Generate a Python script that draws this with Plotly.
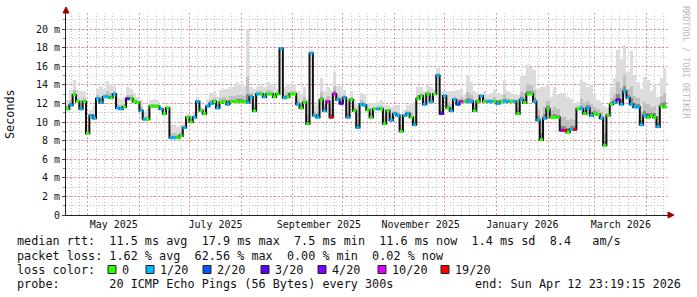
import plotly.graph_objects as go
import pandas as pd

# ---------------- data ----------------
end_time = "2026-04-12 23:19:15"
span_days = 360
step_days = 2

median_ms = [
    11.4, 11.8, 12.9, 12.2, 11.4, 12.2, 8.8, 10.7, 10.4, 12.5,
    12.1, 12.7, 12.7, 12.6, 13.0, 11.5, 11.4, 11.6, 12.5, 12.5,
    12.2, 12.1, 11.2, 10.3, 10.3, 11.7, 11.7, 11.7, 11.4, 10.9,
    11.5, 8.3, 8.3, 8.3, 8.5, 9.4, 10.5, 10.0, 10.5, 12.2,
    11.2, 10.9, 11.7, 12.0, 12.2, 11.5, 12.1, 12.2, 11.9, 12.2,
    12.2, 12.2, 12.2, 12.2, 12.1, 12.7, 11.2, 13.0, 13.0, 12.7,
    13.0, 13.0, 12.7, 13.0, 17.9, 12.6, 12.7, 13.0, 13.0, 11.9,
    11.5, 12.1, 9.8, 17.4, 10.7, 10.5, 12.4, 11.2, 12.2, 10.5,
    13.0, 12.4, 12.0, 12.6, 10.5, 12.4, 11.2, 9.4, 11.9, 11.8,
    11.3, 10.5, 11.4, 11.4, 11.4, 9.8, 11.2, 10.2, 10.9, 10.7,
    9.0, 10.7, 10.9, 10.5, 9.7, 12.5, 12.8, 11.9, 13.0, 12.2,
    13.0, 15.0, 10.9, 12.8, 11.5, 11.2, 12.4, 11.9, 12.2, 12.2,
    12.2, 12.2, 11.2, 12.2, 12.8, 12.2, 12.2, 12.2, 12.2, 12.0,
    12.2, 12.2, 12.2, 12.2, 12.2, 10.9, 12.4, 12.1, 13.0, 13.0,
    12.2, 10.2, 8.1, 10.4, 11.4, 10.5, 10.5, 10.5, 9.1, 9.1,
    8.9, 9.2, 9.2, 11.4, 11.4, 10.9, 11.5, 10.7, 10.9, 10.8,
    10.4, 7.5, 10.7, 11.9, 12.1, 12.4, 11.9, 13.3, 12.6, 11.9,
    11.6, 11.6, 9.7, 10.7, 10.5, 10.7, 10.5, 9.5, 11.7, 11.6,
]

smoke_top_ms = [
    12.4, 13.4, 14.5, 13.4, 13.3, 13.3, 9.6, 11.3, 11.8, 13.6,
    13.9, 13.6, 14.4, 14.1, 13.9, 12.7, 12.5, 12.7, 13.8, 13.6,
    13.1, 12.7, 12.4, 11.1, 11.3, 12.4, 12.5, 12.4, 11.6, 11.5,
    11.8, 9.7, 9.7, 9.5, 9.7, 10.0, 10.9, 10.8, 11.1, 12.7,
    11.6, 11.5, 12.5, 13.1, 13.3, 12.7, 13.4, 13.6, 13.6, 13.8,
    13.9, 14.3, 14.1, 13.9, 20.0, 13.8, 13.6, 13.8, 13.9, 13.8,
    14.3, 14.1, 13.9, 13.6, 18.1, 13.8, 14.1, 13.9, 14.1, 13.3,
    13.0, 13.8, 12.5, 17.7, 11.8, 12.2, 14.7, 13.3, 13.8, 13.3,
    15.4, 13.9, 13.9, 13.4, 12.2, 13.3, 12.5, 11.8, 13.1, 12.9,
    12.0, 12.0, 12.0, 12.2, 12.4, 11.8, 11.8, 11.6, 11.8, 11.8,
    10.9, 11.3, 11.8, 12.0, 12.2, 13.8, 13.8, 13.3, 13.9, 13.8,
    13.6, 15.8, 13.3, 13.3, 13.3, 13.3, 13.3, 13.4, 13.6, 12.9,
    15.1, 14.3, 13.3, 13.1, 12.7, 13.3, 12.9, 13.1, 13.6, 13.1,
    12.9, 14.5, 13.3, 13.1, 12.9, 12.9, 14.9, 14.9, 16.1, 15.9,
    15.6, 13.6, 13.8, 13.8, 13.9, 12.7, 13.8, 13.0, 13.1, 13.1,
    12.7, 12.5, 12.0, 12.2, 14.5, 14.3, 13.8, 14.1, 12.9, 12.4,
    12.2, 11.7, 11.5, 13.8, 14.7, 17.7, 16.8, 18.3, 15.4, 17.6,
    15.1, 14.3, 13.6, 14.8, 14.5, 13.3, 14.1, 12.7, 14.7, 15.8,
]

loss_pings = [
    0, 1, 0, 0, 1, 0, 0, 1, 1, 1,
    1, 1, 1, 0, 1, 1, 1, 0, 3, 0,
    0, 0, 1, 1, 0, 0, 0, 0, 1, 0,
    0, 1, 1, 0, 0, 1, 0, 0, 1, 1,
    0, 0, 1, 1, 0, 1, 0, 0, 1, 0,
    0, 0, 0, 0, 1, 1, 0, 1, 0, 1,
    0, 0, 0, 0, 1, 1, 0, 0, 0, 1,
    0, 0, 0, 1, 1, 1, 0, 1, 10, 19,
    10, 1, 3, 1, 1, 0, 0, 1, 1, 1,
    0, 0, 0, 1, 0, 0, 0, 1, 1, 1,
    0, 1, 1, 0, 1, 0, 0, 1, 0, 1,
    0, 1, 3, 1, 0, 1, 1, 2, 10, 0,
    1, 1, 0, 0, 1, 0, 1, 1, 0, 1,
    0, 1, 1, 0, 1, 0, 1, 0, 0, 0,
    1, 1, 0, 1, 0, 0, 0, 0, 4, 19,
    0, 1, 19, 0, 1, 0, 1, 1, 0, 0,
    1, 0, 0, 0, 1, 4, 1, 1, 1, 1,
    1, 1, 1, 1, 0, 0, 0, 1, 0, 0,
]

loss_levels = [0, 1, 2, 3, 4, 10, 19]
loss_labels = ["0", "1/20", "2/20", "3/20", "4/20", "10/20", "19/20"]
loss_colors = ["#26ff00", "#00b8ff", "#0059ff", "#5e00ff", "#7e00ff", "#dd00ff", "#ff0000"]

y_tick_vals = [0, 2, 4, 6, 8, 10, 12, 14, 16, 18, 20]
y_tick_text = ["0", "2 m", "4 m", "6 m", "8 m", "10 m", "12 m", "14 m", "16 m", "18 m", "20 m"]

month_starts = ["2025-05-01", "2025-06-01", "2025-07-01", "2025-08-01", "2025-09-01",
                "2025-10-01", "2025-11-01", "2025-12-01", "2026-01-01", "2026-02-01",
                "2026-03-01", "2026-04-01"]
month_labels = ["May 2025", "", "July 2025", "", "September 2025", "", "November 2025", "",
                "January 2026", "", "March 2026", ""]

stat_line_rtt = "median rtt:  11.5 ms avg  17.9 ms max  7.5 ms min  11.6 ms now  1.4 ms sd  8.4   am/s"
stat_line_loss = "packet loss: 1.62 % avg  62.56 % max  0.00 % min  0.02 % now"
probe_line = "probe:       20 ICMP Echo Pings (56 Bytes) every 300s"
end_line = "end: Sun Apr 12 23:19:15 2026"

# ---------------- layout geometry ----------------
W, H = 697, 297
L, R, T, B = 66, 29, 13, 82
PW, PH = W - L - R, H - T - B
Y_MAX = 21.72
MONO = "DejaVu Sans Mono"


def px(x):
    return (x - L) / PW


def py(y):
    return (H - B - y) / PH


t_end = pd.Timestamp(end_time)
t0 = t_end - pd.Timedelta(days=span_days)
step = pd.Timedelta(days=step_days)
step_ms = step.total_seconds() * 1000
n = len(median_ms)
starts = [t0 + i * step for i in range(n)]
ends = [s + step for s in starts]
centers = [s + step / 2 for s in starts]
x_end = t0 + pd.Timedelta(days=PW / 1.668)

fig = go.Figure()

# smoke
spread = [t - m for t, m in zip(smoke_top_ms, median_ms)]
for frac, col in [(1.0, "#dcdcdc"), (0.35, "#c0c0c0"), (0.12, "#8a8a8a")]:
    fig.add_bar(x=centers, y=[s * frac for s in spread], base=median_ms, width=step_ms,
                marker=dict(color=col, line_width=0), hoverinfo="skip", showlegend=False)

# median line
fig.add_scatter(x=starts + [ends[-1]], y=median_ms + [median_ms[-1]], mode="lines",
                line=dict(color="#111111", width=2, shape="hv"), showlegend=False, hoverinfo="skip")

# loss coloured segments
for lvl, col in zip(loss_levels, loss_colors):
    xs, ys = [], []
    for s, e, m, lp in zip(starts, ends, median_ms, loss_pings):
        if lp == lvl:
            xs += [s, e, None]
            ys += [m, m, None]
    if xs:
        fig.add_scatter(x=xs, y=ys, mode="lines", line=dict(color=col, width=3),
                        connectgaps=False, showlegend=False, hoverinfo="skip")

# minor x grid positions
minor_x = []
for ms in ["2025-04-01"] + month_starts:
    base = pd.Timestamp(ms)
    for d in [5, 10, 15, 20, 25]:
        v = base + pd.Timedelta(days=d)
        if t0 < v < x_end:
            minor_x.append(v)

fig.update_layout(
    width=W, height=H,
    margin=dict(l=L, r=R, t=T, b=B, pad=0),
    paper_bgcolor="white", plot_bgcolor="white",
    barmode="overlay", bargap=0,
    showlegend=False,
    font=dict(family=MONO, size=10, color="#111111"),
    xaxis=dict(
        type="date", range=[t0, x_end],
        tickmode="array", tickvals=month_starts, ticktext=month_labels,
        ticklabelshift=26,
        showgrid=True, gridcolor="rgba(225,120,120,0.75)", griddash="2px,2px", gridwidth=1,
        ticks="", showline=True, linecolor="#222222", linewidth=1,
        tickfont=dict(family=MONO, size=10, color="#111111"),
        zeroline=False,
        minor=dict(tickvals=minor_x, showgrid=True, gridcolor="rgba(190,190,190,0.9)",
                   griddash="1px,2px", gridwidth=1),
    ),
    yaxis=dict(
        range=[0, Y_MAX],
        tickmode="array", tickvals=y_tick_vals, ticktext=y_tick_text,
        showgrid=True, gridcolor="rgba(225,120,120,0.75)", griddash="2px,2px", gridwidth=1,
        ticks="outside", ticklen=3, tickcolor="#444444",
        showline=True, linecolor="#222222", linewidth=1,
        tickfont=dict(family=MONO, size=10, color="#111111"),
        zeroline=False,
        minor=dict(dtick=1, tick0=0, showgrid=True, gridcolor="rgba(190,190,190,0.9)",
                   griddash="1px,2px", gridwidth=1, ticks="outside", ticklen=2, tickcolor="#888888"),
    ),
)

shapes = []
# axis arrows
shapes.append(dict(type="path", xref="paper", yref="paper",
                   path=f"M {px(668)},{py(212)} L {px(674)},{py(215)} L {px(668)},{py(218)} Z",
                   fillcolor="#a00000", line=dict(color="#a00000", width=1)))
shapes.append(dict(type="path", xref="paper", yref="paper",
                   path=f"M {px(63)},{py(13)} L {px(66)},{py(7)} L {px(69)},{py(13)} Z",
                   fillcolor="#a00000", line=dict(color="#a00000", width=1)))

annotations = []
LEG = 11.8


def text(x, y, s, size=LEG, anchor="left", color="#111111", angle=0):
    annotations.append(dict(x=px(x), y=py(y), xref="paper", yref="paper", text=s,
                            showarrow=False, xanchor=anchor, yanchor="middle",
                            textangle=angle, borderpad=0,
                            font=dict(family=MONO, size=size, color=color)))


text(16, 241, stat_line_rtt.replace(" ", "&nbsp;"))
text(16, 255.5, stat_line_loss.replace(" ", "&nbsp;"))
text(16, 269.5, "loss&nbsp;color:")
text(16, 283.5, probe_line.replace(" ", "&nbsp;"))
text(682, 283.5, end_line.replace(" ", "&nbsp;"), anchor="right")

sq_x = [108, 146, 203, 261, 318, 378, 441]
lab_x = [121, 159, 216, 274, 331, 391, 454]
for sx, lx, lab, col in zip(sq_x, lab_x, loss_labels, loss_colors):
    shapes.append(dict(type="rect", xref="paper", yref="paper",
                       x0=px(sx), x1=px(sx + 8), y0=py(273.5), y1=py(265.5),
                       fillcolor=col, line=dict(color="#222222", width=1)))
    text(lx, 269.5, lab)

# axis title and watermark
text(10, 114, "Seconds", size=LEG, anchor="center", angle=-90)
text(686, 62, "RRDTOOL&nbsp;/&nbsp;TOBI&nbsp;OETIKER", size=8.5, anchor="center",
     color="#b8b8b8", angle=90)

fig.update_layout(shapes=shapes, annotations=annotations)
fig.write_html("out.html")
